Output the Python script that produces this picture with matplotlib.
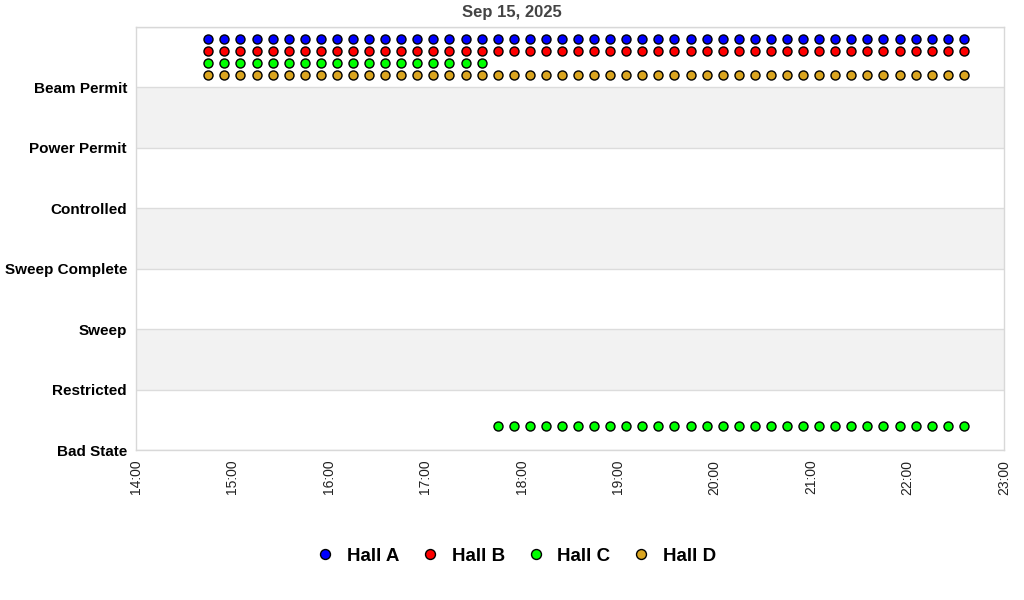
import numpy as np
import pandas as pd
import matplotlib
matplotlib.use("Agg")
import matplotlib.pyplot as plt
import matplotlib.dates as mdates

plt.rcParams["font.family"] = ["Liberation Sans", "DejaVu Sans"]

# y categories, bottom to top
state_names = ["Bad State", "Restricted", "Sweep", "Sweep Complete",
               "Controlled", "Power Permit", "Beam Permit"]

# sample times (Sep 15, 2025), every 10 minutes
times = ["14:45", "14:55", "15:05", "15:15", "15:25", "15:35", "15:45", "15:55",
         "16:05", "16:15", "16:25", "16:35", "16:45", "16:55", "17:05", "17:15",
         "17:25", "17:35", "17:45", "17:55", "18:05", "18:15", "18:25", "18:35",
         "18:45", "18:55", "19:05", "19:15", "19:25", "19:35", "19:45", "19:55",
         "20:05", "20:15", "20:25", "20:35", "20:45", "20:55", "21:05", "21:15",
         "21:25", "21:35", "21:45", "21:55", "22:05", "22:15", "22:25", "22:35"]

# state per sample (index into state_names)
hall_a = [6] * 48
hall_b = [6] * 48
hall_c = [6] * 18 + [0] * 30
hall_d = [6] * 48

halls = ["Hall A", "Hall B", "Hall C", "Hall D"]
colors = ["#0000ff", "#ff0000", "#00ff00", "#daa520"]
offsets = [0.8, 0.6, 0.4, 0.2]   # small vertical stagger so halls don't overlap

t = pd.to_datetime(["2025-09-15 " + s for s in times])

fig = plt.figure(figsize=(10.24, 6.0), dpi=100)
ax = fig.add_axes([136 / 1024, 150 / 600, 868 / 1024, 423 / 600])

# alternating bands
for k in range(len(state_names) + 1):
    if k % 2 == 1:
        ax.axhspan(k, k + 1, color="#f2f2f2", zorder=0, lw=0)
    ax.axhline(k, color="#dcdcdc", lw=1.0, zorder=1)

for name, vals, c, off in zip(halls, [hall_a, hall_b, hall_c, hall_d], colors, offsets):
    ax.plot(t, np.array(vals) + off, "o", ms=6.5, mfc=c, mec="black", mew=1.0,
            label=name, zorder=3, clip_on=False)

ax.set_ylim(0, 7)
ax.set_yticks(range(len(state_names)))
ax.set_yticklabels(state_names, fontsize=11, fontweight="bold")
ax.set_xlim(pd.Timestamp("2025-09-15 14:00"), pd.Timestamp("2025-09-15 23:00"))
ax.xaxis.set_major_locator(mdates.HourLocator())
ax.xaxis.set_major_formatter(mdates.DateFormatter("%H:%M"))
plt.setp(ax.get_xticklabels(), rotation=90, fontsize=10, color="#222222")
ax.tick_params(length=0, pad=7)
ax.tick_params(axis="y", pad=6.5)

for s in ax.spines.values():
    s.set_color("#d8d8d8")
    s.set_linewidth(1.0)

fig.text(512 / 1024, 1 - 13 / 600, "Sep 15, 2025", ha="center", va="center",
         fontsize=12, fontweight="bold", color="#444444")

leg = fig.legend(loc="center", bbox_to_anchor=(516 / 1024, 1 - 556 / 600), ncol=4,
                 frameon=False, prop={"weight": "bold", "size": 13.5},
                 handlelength=1.0, handletextpad=0.65, columnspacing=1.15,
                 markerscale=1.1)

fig.savefig("out.png", dpi=100)
